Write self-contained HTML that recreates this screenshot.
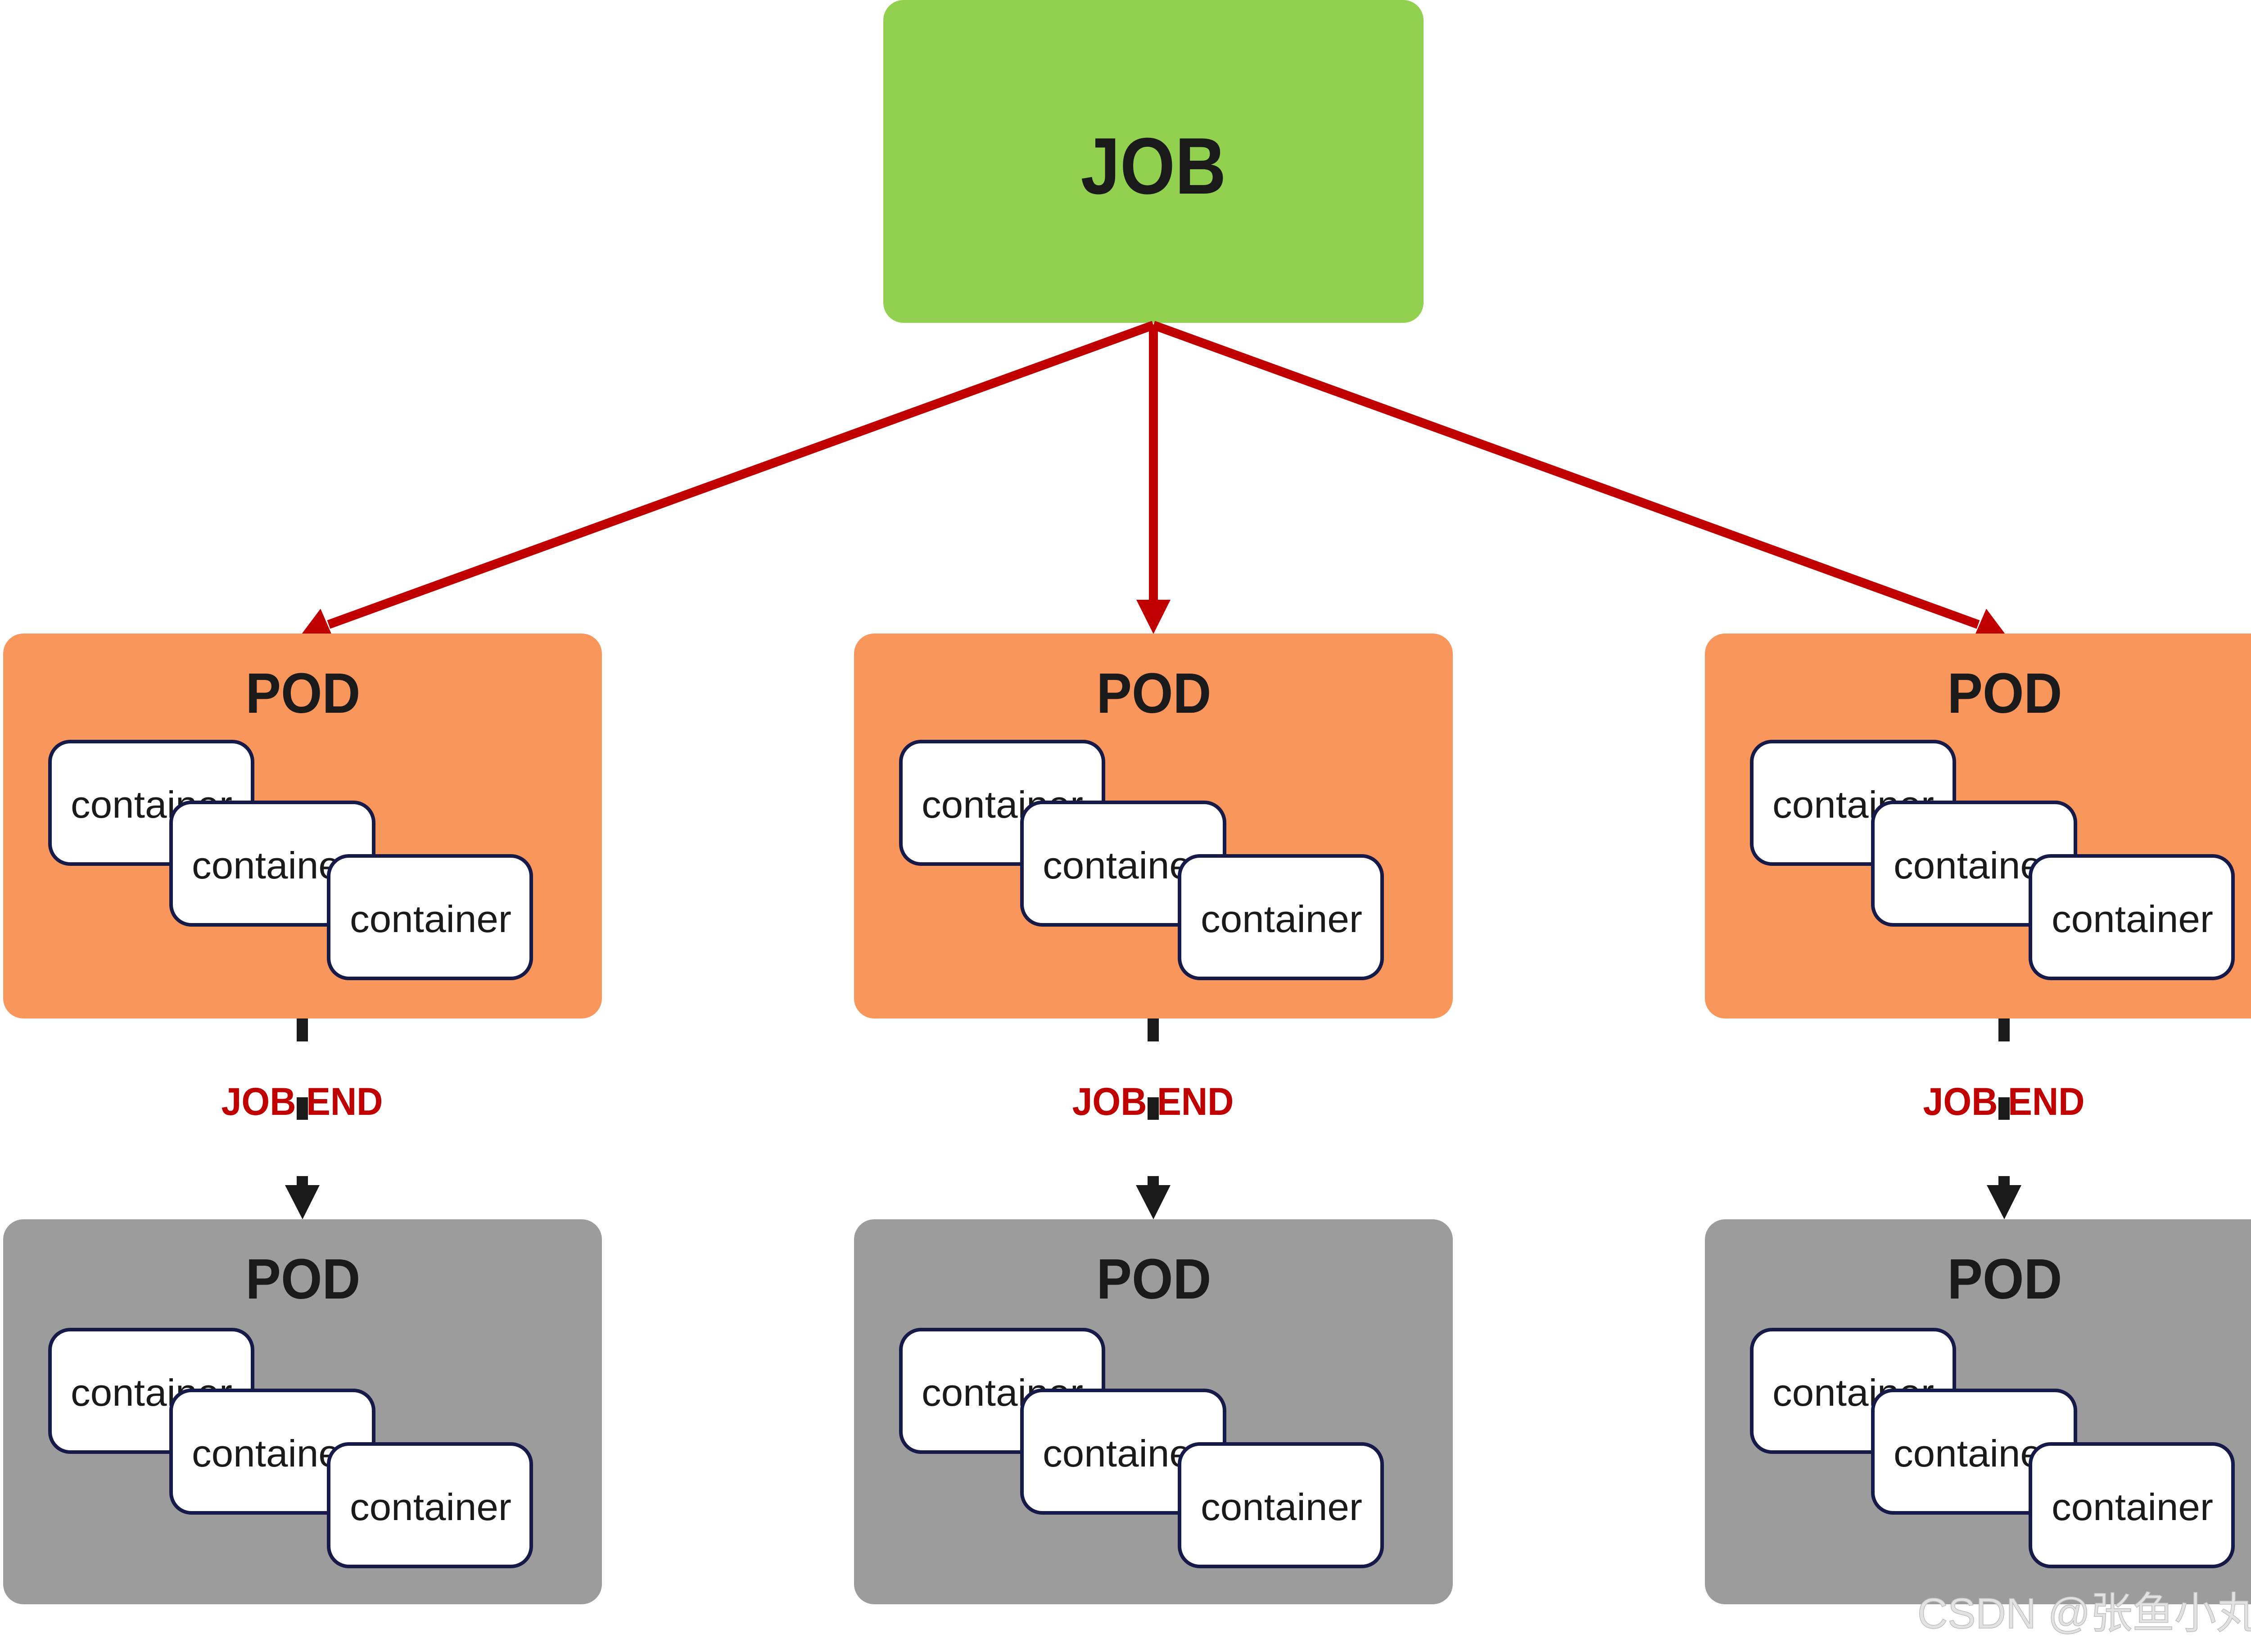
<!DOCTYPE html>
<html><head><meta charset="utf-8"><style>
html,body{margin:0;padding:0;background:#fff;width:5125px;height:3669px;overflow:hidden;}
svg{display:block;}
</style></head><body>
<svg width="5125" height="3669" viewBox="0 0 5125 3669" xmlns="http://www.w3.org/2000/svg">
<defs>
<g id="conts">
  <rect x="104" y="240" width="450" height="272" rx="45" fill="#fff" stroke="#151a48" stroke-width="8"/>
  <text x="150" y="409" font-family="Liberation Sans, sans-serif" font-size="84" fill="#1a1a1a" textLength="359" lengthAdjust="spacingAndGlyphs">container</text>
  <rect x="373" y="375" width="450" height="272" rx="45" fill="#fff" stroke="#151a48" stroke-width="8"/>
  <text x="419" y="544" font-family="Liberation Sans, sans-serif" font-size="84" fill="#1a1a1a" textLength="359" lengthAdjust="spacingAndGlyphs">container</text>
  <rect x="723" y="494" width="450" height="272" rx="45" fill="#fff" stroke="#151a48" stroke-width="8"/>
  <text x="770" y="663" font-family="Liberation Sans, sans-serif" font-size="84" fill="#1a1a1a" textLength="359" lengthAdjust="spacingAndGlyphs">container</text>
</g>
</defs>

<!-- JOB -->
<rect x="1962" y="0" width="1200" height="717" rx="45" fill="#92d050"/>
<text x="2562" y="430" text-anchor="middle" font-family="Liberation Sans, sans-serif" font-weight="bold" font-size="178" fill="#1a1a1a" textLength="323" lengthAdjust="spacingAndGlyphs">JOB</text>

<!-- red arrows -->
<g stroke="#c00000" stroke-width="20" fill="none">
  <line x1="2562" y1="722" x2="2562" y2="1340"/>
  <line x1="2562" y1="722" x2="730" y2="1387"/>
  <line x1="2562" y1="722" x2="4394" y2="1387"/>
</g>
<g fill="#c00000">
  <polygon points="2524,1332 2600,1332 2562,1408"/>
  <polygon points="670,1408 712,1352 738,1412"/>
  <polygon points="4454,1408 4386,1412 4412,1352"/>
</g>

<!-- pods -->
<g>
  <rect x="7" y="1407" width="1330" height="855" rx="45" fill="#f8965c"/>
  <rect x="1897" y="1407" width="1330" height="855" rx="45" fill="#f8965c"/>
  <rect x="3787" y="1407" width="1330" height="855" rx="45" fill="#f8965c"/>
  <rect x="7" y="2708" width="1330" height="855" rx="45" fill="#9c9c9c"/>
  <rect x="1897" y="2708" width="1330" height="855" rx="45" fill="#9c9c9c"/>
  <rect x="3787" y="2708" width="1330" height="855" rx="45" fill="#9c9c9c"/>
</g>
<g font-family="Liberation Sans, sans-serif" font-weight="bold" font-size="126" fill="#1a1a1a" text-anchor="middle">
  <text x="673" y="1583" textLength="255" lengthAdjust="spacingAndGlyphs">POD</text>
  <text x="2563" y="1583" textLength="255" lengthAdjust="spacingAndGlyphs">POD</text>
  <text x="4453" y="1583" textLength="255" lengthAdjust="spacingAndGlyphs">POD</text>
  <text x="673" y="2884" textLength="255" lengthAdjust="spacingAndGlyphs">POD</text>
  <text x="2563" y="2884" textLength="255" lengthAdjust="spacingAndGlyphs">POD</text>
  <text x="4453" y="2884" textLength="255" lengthAdjust="spacingAndGlyphs">POD</text>
</g>
<use href="#conts" x="7" y="1407"/>
<use href="#conts" x="1897" y="1407"/>
<use href="#conts" x="3787" y="1407"/>
<use href="#conts" x="7" y="2713"/>
<use href="#conts" x="1897" y="2713"/>
<use href="#conts" x="3787" y="2713"/>

<!-- dashed connectors -->
<g id="dc">
  <text x="671" y="2476" text-anchor="middle" font-family="Liberation Sans, sans-serif" font-weight="bold" font-size="86" fill="#c00000" textLength="359" lengthAdjust="spacingAndGlyphs">JOB END</text>
  <rect x="659" y="2262" width="25" height="51" fill="#1a1a1a"/>
  <rect x="659" y="2437" width="25" height="50" fill="#1a1a1a"/>
  <rect x="659" y="2612" width="25" height="22" fill="#1a1a1a"/>
  <polygon points="633,2632 710,2632 672,2708" fill="#1a1a1a"/>
</g>
<use href="#dc" x="1890" y="0"/>
<use href="#dc" x="3780" y="0"/>

<!-- watermark -->
<text x="4259" y="3616" font-family="Liberation Sans, 'Noto Sans CJK SC', sans-serif" font-size="96" fill="#e2e2e2" stroke="#bdbdbd" stroke-width="1.5" textLength="850" lengthAdjust="spacingAndGlyphs">CSDN @张鱼小丸子</text>
</svg>
</body></html>
